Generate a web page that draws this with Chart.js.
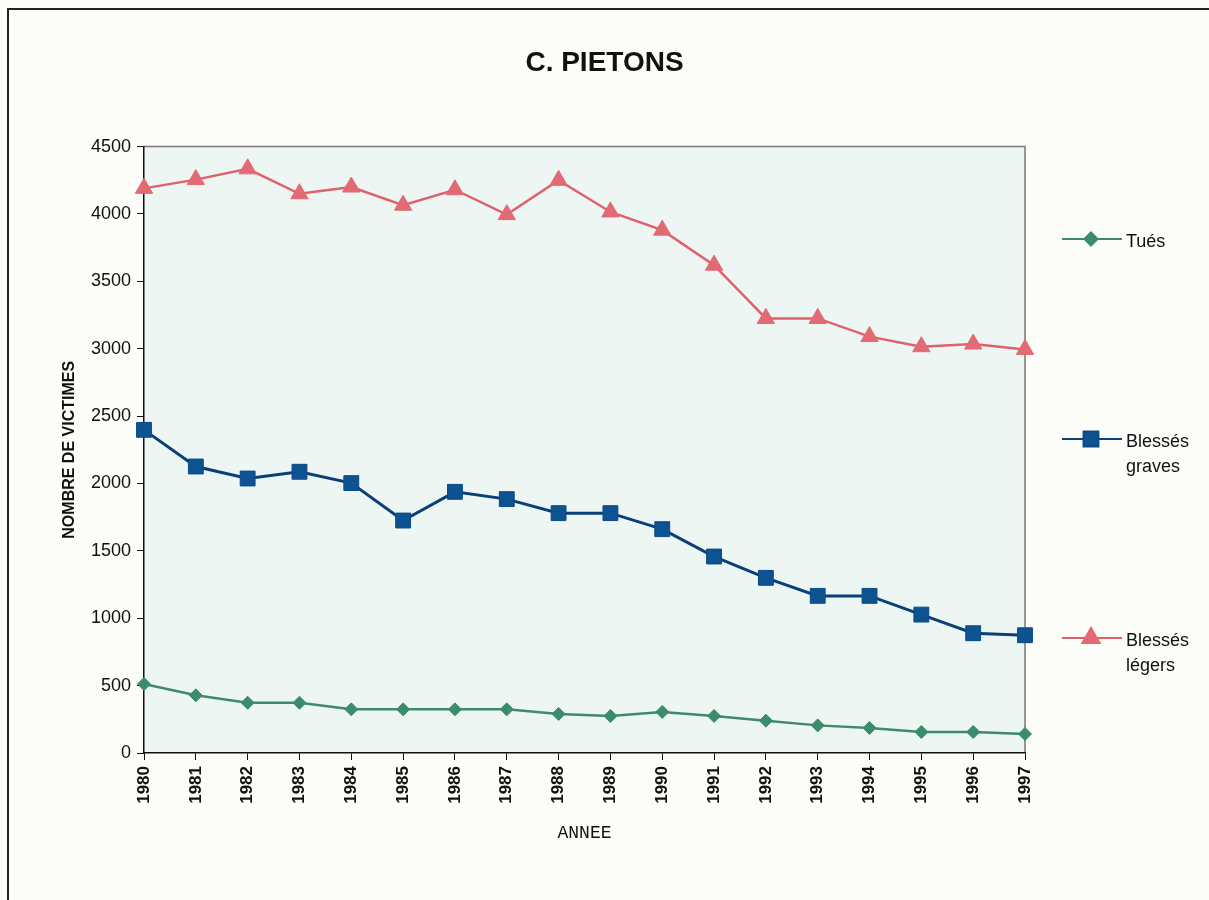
<!DOCTYPE html>
<html>
<head>
<meta charset="utf-8">
<title>C. PIETONS</title>
<script src="https://cdn.jsdelivr.net/npm/chart.js@4.4.0/dist/chart.umd.min.js"></script>
<style>
  body { margin: 0; background: #fcfcf8; }
  #wrap { position: relative; width: 1209px; height: 900px; overflow: hidden; }
  #frame { position: absolute; left: 7px; top: 8px; width: 1400px; height: 1000px;
           border-left: 2px solid #222; border-top: 2px solid #222; }
</style>
</head>
<body>
<div id="wrap">
  <div id="frame"></div>
  <canvas id="chart1"></canvas>
</div>
<script>
let annees = ["1980", "1981", "1982", "1983", "1984", "1985", "1986", "1987", "1988",
              "1989", "1990", "1991", "1992", "1993", "1994", "1995", "1996", "1997"];
let tues = [512, 428, 373, 373, 324, 324, 324, 324, 290, 275, 305, 275, 240, 205, 186, 156, 156, 141];
let blessesGraves = [2398, 2126, 2037, 2087, 2003, 1725, 1938, 1884, 1780, 1780, 1661, 1458, 1300, 1166, 1166, 1027, 889, 874];
let blessesLegers = [4190, 4255, 4335, 4150, 4200, 4065, 4180, 3995, 4250, 4015, 3880, 3620, 3225, 3225, 3090, 3015, 3035, 2995];
let legendNames = [["Tués"], ["Blessés", "graves"], ["Blessés", "légers"]];

Chart.defaults.font.family = "'Liberation Sans', Arial, sans-serif";
Chart.defaults.color = "#111";

// fond de la zone de tracé + cadre gris haut/droite
const plotBackground = {
  id: "plotBackground",
  beforeDraw(chart) {
    const {ctx, chartArea: a} = chart;
    ctx.save();
    ctx.fillStyle = "#edf6f2";
    ctx.fillRect(a.left, a.top, a.right - a.left, a.bottom - a.top);
    ctx.strokeStyle = "#777";
    ctx.lineWidth = 1.5;
    ctx.beginPath();
    ctx.moveTo(a.left, a.top);
    ctx.lineTo(a.right, a.top);
    ctx.lineTo(a.right, a.bottom);
    ctx.stroke();
    ctx.restore();
  }
};

// légende à droite, entrées espacées comme sur l'original
const sideLegend = {
  id: "sideLegend",
  afterDraw(chart) {
    const ctx = chart.ctx;
    const rows = [239, 439, 638];
    ctx.save();
    chart.data.datasets.forEach((ds, i) => {
      const y = rows[i];
      ctx.strokeStyle = ds.borderColor;
      ctx.lineWidth = 2;
      ctx.beginPath();
      ctx.moveTo(1062, y);
      ctx.lineTo(1122, y);
      ctx.stroke();
      ctx.fillStyle = ds.pointBackgroundColor;
      ctx.strokeStyle = ds.pointBorderColor;
      Chart.helpers.drawPoint(ctx, {
        pointStyle: ds.pointStyle, radius: ds.pointRadius, rotation: 0, borderWidth: 1
      }, 1091, y);
      ctx.fillStyle = "#111";
      ctx.font = "18px 'Liberation Sans', Arial, sans-serif";
      ctx.textBaseline = "middle";
      legendNames[i].forEach((t, k) => ctx.fillText(t, 1126, y + 3 + k * 25));
    });
    ctx.restore();
  }
};

new Chart("chart1", {
  type: "line",
  data: {
    labels: annees,
    datasets: [{
      label: "Tués",
      data: tues,
      borderColor: "#3f8a6c",
      borderWidth: 2.5,
      pointStyle: "rectRot",
      pointRadius: 6.5,
      pointBackgroundColor: "#3a8c6a",
      pointBorderColor: "#3a8c6a",
      pointBorderWidth: 1
    }, {
      label: "Blessés graves",
      data: blessesGraves,
      borderColor: "#0b3f78",
      borderWidth: 3,
      pointStyle: "rect",
      pointRadius: 10.5,
      pointBackgroundColor: "#0d5391",
      pointBorderColor: "#0b4a85",
      pointBorderWidth: 1
    }, {
      label: "Blessés légers",
      data: blessesLegers,
      borderColor: "#e0606c",
      borderWidth: 2.5,
      pointStyle: "triangle",
      pointRadius: 10,
      pointBackgroundColor: "#e26a74",
      pointBorderColor: "#e26a74",
      pointBorderWidth: 1
    }]
  },
  options: {
    responsive: true,
    maintainAspectRatio: false,
    animation: false,
    layout: { padding: 0 },
    plugins: {
      legend: { display: false },
      tooltip: { enabled: false },
      title: {
        display: true,
        text: "C. PIETONS",
        color: "#111",
        font: { size: 28, weight: "bold" },
        padding: { top: 46, bottom: 67 }
      }
    },
    scales: {
      x: {
        offset: false,
        afterFit: s => { s.height = 147; },
        grid: { drawOnChartArea: false, drawTicks: true, tickLength: 7, color: "#111" },
        border: { display: true, color: "#111", width: 1.5 },
        ticks: {
          autoSkip: false, maxRotation: 90, minRotation: 90, padding: 6,
          color: "#111", font: { size: 17, weight: "bold" }
        },
        title: {
          display: true, text: "ANNEE", color: "#111",
          font: { family: "'Liberation Mono', 'Courier New', monospace", size: 18 },
          padding: { top: 4, bottom: 56 }
        }
      },
      y: {
        min: 0, max: 4500,
        afterFit: s => { s.width = 144; },
        grid: { drawOnChartArea: false, drawTicks: true, tickLength: 7, color: "#111" },
        border: { display: true, color: "#111", width: 1.5 },
        ticks: { stepSize: 500, padding: 6, color: "#111", font: { size: 18 }, callback: v => String(v) },
        title: {
          display: true, text: "NOMBRE DE VICTIMES", color: "#111",
          font: { size: 16, weight: "bold" },
          padding: { top: 60, bottom: 0 }
        }
      },
      // axe vide à droite : réserve la place de la légende
      yRight: {
        position: "right",
        min: 0, max: 4500,
        afterFit: s => { s.width = 184; },
        grid: { display: false },
        border: { display: false },
        ticks: { display: false }
      }
    }
  },
  plugins: [plotBackground, sideLegend]
});
</script>
</body>
</html>
